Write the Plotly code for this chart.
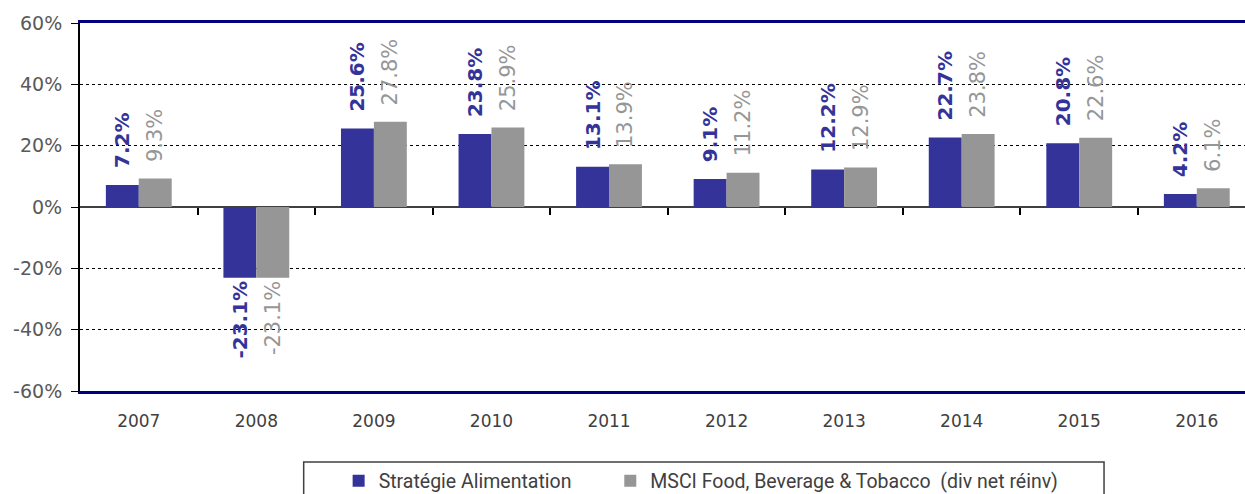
import plotly.graph_objects as go

years = ["2007", "2008", "2009", "2010", "2011", "2012", "2013", "2014", "2015", "2016"]
strategie = [7.2, -23.1, 25.6, 23.8, 13.1, 9.1, 12.2, 22.7, 20.8, 4.2]
msci = [9.3, -23.1, 27.8, 25.9, 13.9, 11.2, 12.9, 23.8, 22.6, 6.1]
y_ticks = [-60, -40, -20, 0, 20, 40, 60]
y_ticktext = ["-60%", "-40%", "-20%", "0%", "20%", "40%", "60%"]

BLUE = "#333399"
GREY = "#969696"
PAD = "\u00a0\u00a0"

fig = go.Figure()
fig.add_trace(go.Bar(
    x=years, y=strategie, name="Stratégie Alimentation" + "\u00a0" * 7,
    marker=dict(color=BLUE, line=dict(width=0)),
    text=[PAD + f"{v:.1f}%" for v in strategie], textposition="outside",
    textangle=-90, constraintext="none", cliponaxis=False,
    textfont=dict(family="DejaVu Sans", size=20, color=BLUE, weight="bold"),
))
fig.add_trace(go.Bar(
    x=years, y=msci, name="MSCI Food, Beverage & Tobacco  (div net réinv)",
    marker=dict(color=GREY, line=dict(width=0)),
    text=[PAD + f"{v:.1f}%" for v in msci], textposition="outside",
    textangle=-90, constraintext="none", cliponaxis=False,
    textfont=dict(family="DejaVu Sans", size=21, color=GREY),
))
# dummy trace so the zero-line tick axis is drawn
fig.add_trace(go.Scatter(x=[None], y=[None], xaxis="x2", showlegend=False, hoverinfo="skip"))

xr = [-0.5, 9.41]
fig.update_layout(
    width=1245, height=494,
    margin=dict(l=80, r=0, t=23, b=103),
    plot_bgcolor="white", paper_bgcolor="white",
    barmode="group", bargap=0.44, bargroupgap=0,
    showlegend=True,
    legend=dict(orientation="h", x=0.222, xref="paper", y=0.026, yref="container",
                xanchor="left", yanchor="middle",
                font=dict(family="Roboto", size=19.5, color="#404040"),
                bgcolor="rgba(0,0,0,0)", traceorder="normal", itemwidth=30),
    xaxis=dict(type="category", range=xr, showgrid=False, ticks="",
               showline=True, linecolor="#000080", linewidth=3, mirror=True,
               tickfont=dict(family="DejaVu Sans", size=17, color="#404040"),
               ticklabelstandoff=13, zeroline=False),
    xaxis2=dict(overlaying="x", anchor="free", position=0.5, range=xr,
                tickvals=[i + 0.5 for i in range(len(years) - 1)],
                ticks="outside", ticklen=7, tickwidth=1.5, tickcolor="#000000",
                showticklabels=False, showgrid=False, showline=False, zeroline=False),
    yaxis=dict(range=[-60, 60], tickvals=y_ticks, ticktext=y_ticktext,
               showgrid=True, gridcolor="#000000", gridwidth=1, griddash="dot",
               zeroline=True, zerolinecolor="#404040", zerolinewidth=2,
               showline=True, linecolor="#000000", linewidth=2,
               ticks="outside", ticklen=7, tickcolor="#000000",
               ticklabelstandoff=5,
               tickfont=dict(family="DejaVu Sans", size=19, color="#595959")),
    shapes=[dict(type="rect", xref="paper", yref="paper",
                 x0=0.192, x1=0.879, y0=-0.193, y1=-0.40,
                 line=dict(color="#404040", width=1.5), fillcolor="rgba(0,0,0,0)")],
)
fig.write_html("out.html")
